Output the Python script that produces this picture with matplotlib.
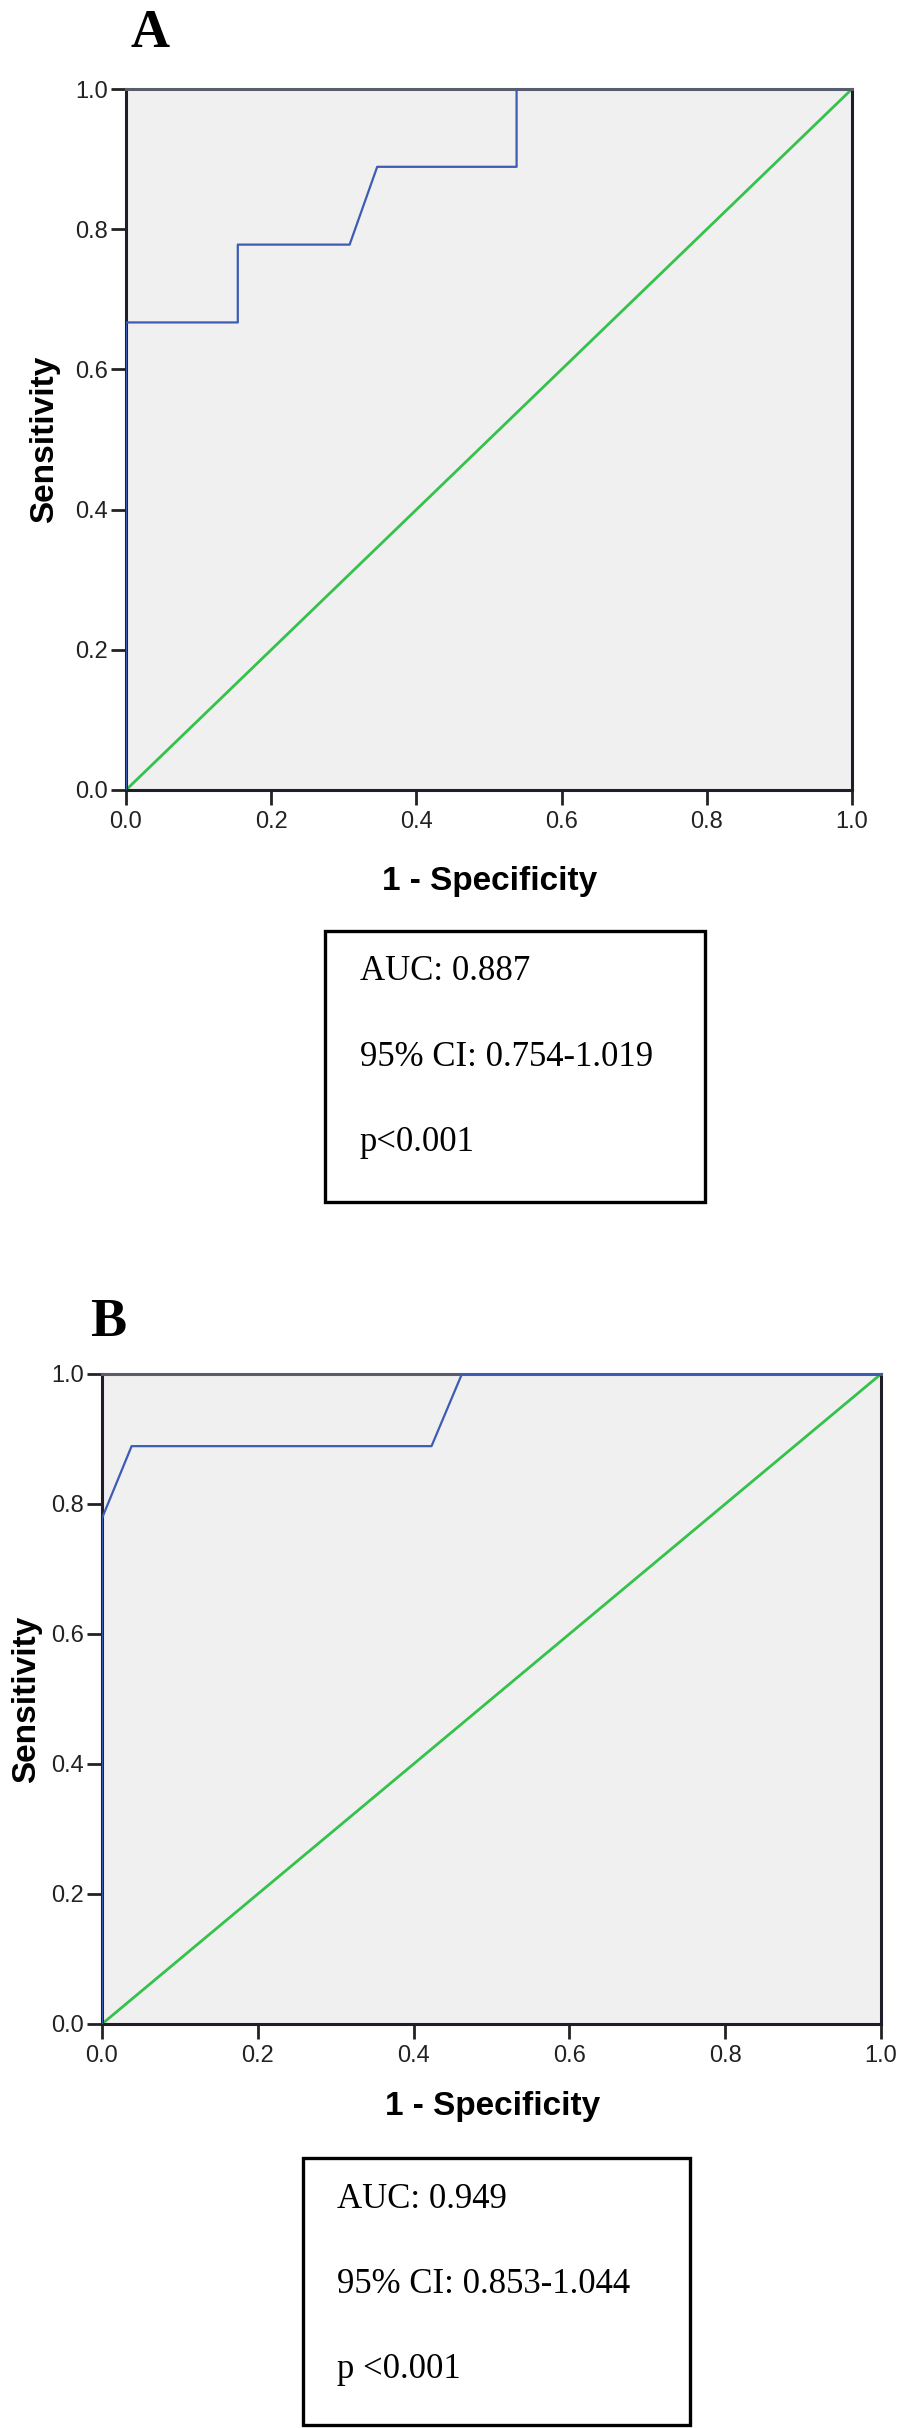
import numpy as np
import matplotlib
matplotlib.use("Agg")
import matplotlib.pyplot as plt
from matplotlib.patches import Rectangle

# ROC curve A
fpr_a = [0.0, 0.0, 0.154, 0.154, 0.308, 0.346, 0.538, 0.538, 1.0]
tpr_a = [0.0, 0.667, 0.667, 0.778, 0.778, 0.889, 0.889, 1.0, 1.0]
stats_a = ["AUC: 0.887", "95% CI: 0.754-1.019", "p<0.001"]

# ROC curve B
fpr_b = [0.0, 0.0, 0.038, 0.423, 0.462, 1.0]
tpr_b = [0.0, 0.778, 0.889, 0.889, 1.0, 1.0]
stats_b = ["AUC: 0.949", "95% CI: 0.853-1.044", "p <0.001"]

ref_line = [0.0, 1.0]
ticks = [0.0, 0.2, 0.4, 0.6, 0.8, 1.0]
tick_labels = ["0.0", "0.2", "0.4", "0.6", "0.8", "1.0"]

W, H = 898, 2428
BLUE = "#3d5cb3"
GREEN = "#35c24a"
BG = "#f0f0f0"

fig = plt.figure(figsize=(W / 100, H / 100), dpi=100)


def fx(x):
    return x / W


def fy(y):
    return 1 - y / H


def roc_panel(left, top, right, bottom, fpr, tpr):
    ax = fig.add_axes([fx(left), fy(bottom), fx(right) - fx(left), fy(top) - fy(bottom)])
    ax.set_facecolor(BG)
    ax.plot(ref_line, ref_line, color=GREEN, lw=2.0, zorder=2)
    ax.plot(fpr, tpr, color=BLUE, lw=1.6, zorder=3)
    ax.set_xlim(0, 1)
    ax.set_ylim(0, 1)
    ax.set_xticks(ticks)
    ax.set_yticks(ticks)
    ax.set_xticklabels(tick_labels, family="Liberation Sans", fontsize=17, color="#222222")
    ax.set_yticklabels(tick_labels, family="Liberation Sans", fontsize=17, color="#222222")
    ax.tick_params(direction="out", length=11, width=2, color="#222222")
    ax.tick_params(axis="y", pad=2)
    ax.tick_params(axis="x", pad=4)
    for s in ["left", "bottom", "right"]:
        ax.spines[s].set_color("#1e1e28")
        ax.spines[s].set_linewidth(2.2)
    ax.spines["top"].set_color("#5a5e6a")
    ax.spines["top"].set_linewidth(2.2)
    return ax


def stats_box(left, top, right, bottom, tx, baselines, lines):
    rect = Rectangle((fx(left), fy(bottom)), fx(right) - fx(left), fy(top) - fy(bottom),
                     transform=fig.transFigure, fill=False, edgecolor="black", lw=2.4)
    fig.add_artist(rect)
    for yb, s in zip(baselines, lines):
        fig.text(fx(tx), fy(yb), s, family="Liberation Serif", fontsize=25,
                 ha="left", va="baseline", color="black")


# Panel A
roc_panel(126, 89, 852, 790, fpr_a, tpr_a)
fig.text(fx(150), fy(47), "A", family="Liberation Serif", fontweight="bold",
         fontsize=39, ha="center", va="baseline")
fig.text(fx(490), fy(890), "1 - Specificity", family="Liberation Sans", fontweight="bold",
         fontsize=24, ha="center", va="baseline")
fig.text(fx(45), fy(439), "Sensitivity", family="Liberation Sans", fontweight="bold",
         fontsize=24, rotation=90, ha="center", va="center")
stats_box(325, 931, 705, 1202, 360, [980, 1066, 1151], stats_a)

# Panel B
roc_panel(102, 1374, 881, 2024, fpr_b, tpr_b)
fig.text(fx(108), fy(1336), "B", family="Liberation Serif", fontweight="bold",
         fontsize=39, ha="center", va="baseline")
fig.text(fx(493), fy(2115), "1 - Specificity", family="Liberation Sans", fontweight="bold",
         fontsize=24, ha="center", va="baseline")
fig.text(fx(27), fy(1699), "Sensitivity", family="Liberation Sans", fontweight="bold",
         fontsize=24, rotation=90, ha="center", va="center")
stats_box(303, 2158, 690, 2425, 337, [2208, 2293, 2378], stats_b)

fig.savefig("out.png", dpi=100)
